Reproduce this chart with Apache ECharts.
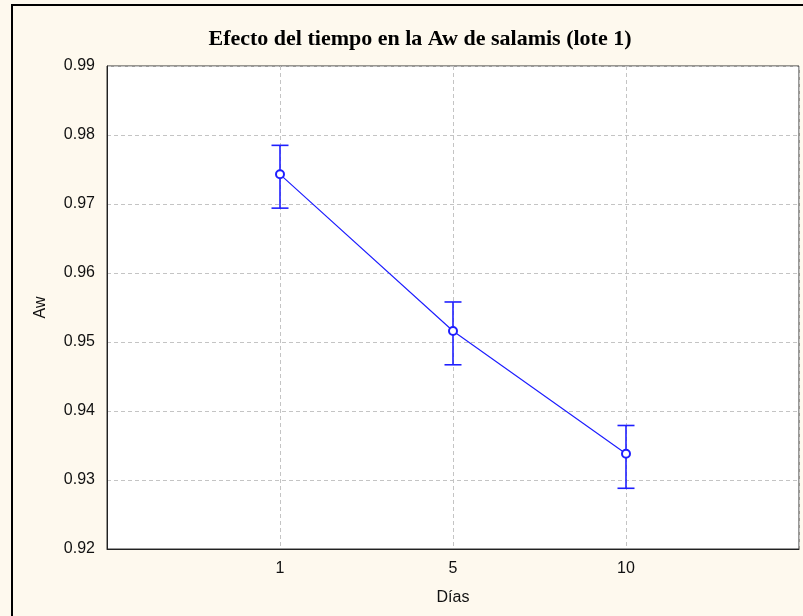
<!DOCTYPE html>
<html>
<head>
<meta charset="utf-8">
<script src="https://cdn.jsdelivr.net/npm/echarts@6/dist/echarts.min.js"></script>
<style>
  html, body { margin: 0; padding: 0; background: #fef9ee; }
  #chart { width: 803px; height: 616px; }
</style>
</head>
<body>
<div id="chart"></div>
<script>
// categorias (dias) con huecos en los extremos
var dias = ['', '1', '5', '10', ''];
var puntos = ['1', '5', '10'];
// medias de Aw
var medias = [0.9743, 0.9516, 0.9338];
// limites de las barras de error
var inferior = [0.9694, 0.9467, 0.9288];
var superior = [0.9785, 0.9558, 0.9379];
var yTicks = [0.92, 0.99, 0.01];

var azul = '#1f1fff';

function draw_chart(){
    var myChart = echarts.init(document.getElementById('chart'));

    var lineData = [];
    var errData = [];
    for (var i = 0; i < puntos.length; i++) {
        lineData.push([puntos[i], medias[i]]);
        errData.push([puntos[i], inferior[i], superior[i]]);
    }

    var option = {
        backgroundColor: '#fef9ee',
        animation: false,
        title: {
            text: 'Efecto del tiempo en la Aw de salamis (lote 1)',
            left: 415,
            textAlign: 'center',
            top: 23,
            textStyle: {
                fontFamily: 'Liberation Serif',
                fontWeight: 'bold',
                fontSize: 22,
                color: '#000'
            }
        },
        // marco exterior
        graphic: [{
            type: 'rect',
            shape: { x: 12, y: 5, width: 820, height: 640 },
            style: { fill: 'none', stroke: '#000', lineWidth: 2 },
            silent: true
        }],
        grid: {
            left: 107, top: 66, right: 4, bottom: 67,
            show: true,
            backgroundColor: '#fff',
            borderColor: '#333',
            borderWidth: 1
        },
        xAxis: {
            type: 'category',
            data: dias,
            boundaryGap: false,
            name: 'Días',
            nameLocation: 'middle',
            nameGap: 41,
            nameTextStyle: { fontFamily: 'Liberation Sans', fontSize: 16, color: '#111' },
            axisLine: { lineStyle: { color: '#222', width: 1 } },
            axisTick: { show: false },
            axisLabel: { fontFamily: 'Liberation Sans', fontSize: 16, color: '#111', margin: 12, interval: 0 },
            splitLine: { show: true, lineStyle: { color: '#c4c4c4', type: [4, 3] } }
        },
        yAxis: {
            type: 'value',
            min: yTicks[0],
            max: yTicks[1],
            interval: yTicks[2],
            name: 'Aw',
            nameLocation: 'middle',
            nameGap: 58,
            nameTextStyle: { fontFamily: 'Liberation Sans', fontSize: 16, color: '#111' },
            axisLine: { show: true, lineStyle: { color: '#222', width: 1 } },
            axisTick: { show: false },
            axisLabel: {
                fontFamily: 'Liberation Sans', fontSize: 16, color: '#111', margin: 12,
                formatter: function (v) { return v.toFixed(2); }
            },
            splitLine: { show: true, lineStyle: { color: '#c4c4c4', type: [4, 3] } }
        },
        series: [
            {
                type: 'custom',
                data: errData,
                z: 2,
                renderItem: function (params, api) {
                    var lo = api.coord([api.value(0), api.value(1)]);
                    var hi = api.coord([api.value(0), api.value(2)]);
                    var w = 8.5;
                    var st = { stroke: azul, lineWidth: 1.6 };
                    return {
                        type: 'group',
                        children: [
                            { type: 'line', shape: { x1: lo[0], y1: lo[1], x2: hi[0], y2: hi[1] }, style: st },
                            { type: 'line', shape: { x1: lo[0] - w, y1: lo[1], x2: lo[0] + w, y2: lo[1] }, style: st },
                            { type: 'line', shape: { x1: hi[0] - w, y1: hi[1], x2: hi[0] + w, y2: hi[1] }, style: st }
                        ]
                    };
                }
            },
            {
                type: 'line',
                data: lineData,
                z: 3,
                symbol: 'emptyCircle',
                symbolSize: 8,
                lineStyle: { color: azul, width: 1.2 },
                itemStyle: { color: azul, borderWidth: 1.2 }
            }
        ]
    };

    myChart.setOption(option);
}

draw_chart();
</script>
</body>
</html>
